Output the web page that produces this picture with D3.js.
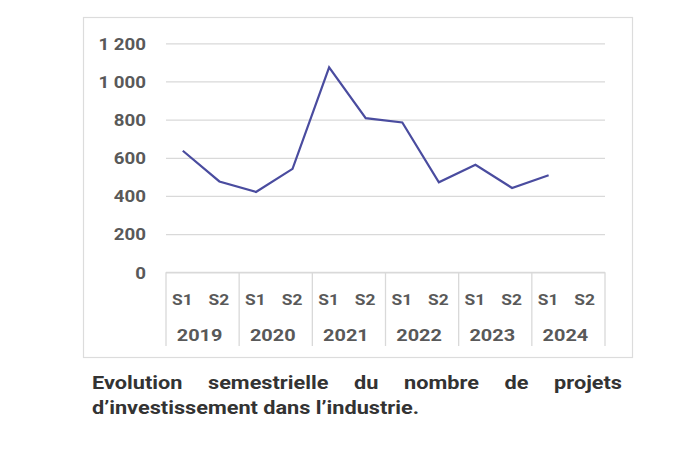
<!DOCTYPE html>
<html><head><meta charset="utf-8">
<script src="https://cdn.jsdelivr.net/npm/d3@7"></script>
<style>body{margin:0;background:#fff;}svg{display:block;font-family:Roboto,"Noto Sans",sans-serif;}</style>
</head><body>
<svg id="c" width="700" height="450"></svg>
<script>
const years = ["2019","2020","2021","2022","2023","2024"];
const halves = ["S1","S2"];
const values = [637, 476, 421, 542, 1074, 808, 785, 472, 563, 442, 509, null];
const yTicks = [0, 200, 400, 600, 800, 1000, 1200];
const captionLine1 = "Evolution semestrielle du nombre de projets";
const captionLine2 = "d\u2019investissement dans l\u2019industrie.";

(function () {
const svg = d3.select("#c");
const pLeft = 166, pRight = 605, pTop = 43.3, pBottom = 272.3, catBottom = 346;
const cats = [];
years.forEach(yr => halves.forEach(h => cats.push(yr + "-" + h)));
const data = cats.map((c, i) => ({cat: c, year: c.split("-")[0], half: c.split("-")[1], v: values[i]}));

const x = d3.scaleBand().domain(cats).range([pLeft, pRight]);
const xYear = d3.scaleBand().domain(years).range([pLeft, pRight]);
const y = d3.scaleLinear().domain([0, 1200]).range([pBottom, pTop]);

function stretch(sel, k) {
  sel.each(function () {
    const w = this.getComputedTextLength();
    d3.select(this).attr("textLength", w * k).attr("lengthAdjust", "spacingAndGlyphs");
  });
}

// frame
svg.append("rect").attr("x", 83.5).attr("y", 17.5).attr("width", 549).attr("height", 340)
  .attr("fill", "#fff").attr("stroke", "#dcdcdc").attr("stroke-width", 1.2);

// gridlines + y labels
const yAxis = d3.axisLeft(y).tickValues(yTicks).tickSize(-(pRight - pLeft)).tickPadding(20)
  .tickFormat(d => d3.format(",")(d).replace(",", " "));
const gy = svg.append("g").attr("transform", `translate(${pLeft},0)`).call(yAxis);
gy.select(".domain").remove();
gy.selectAll(".tick line").attr("stroke", "#d9d9d9").attr("stroke-width", 1.3);
gy.selectAll(".tick text").attr("fill", "#595959").attr("font-size", 17).attr("font-weight", 700)
  .attr("font-family", "Roboto").attr("x", -20).attr("dy", "0.34em");
stretch(gy.selectAll(".tick text"), 1.1);

// category axis boxes
const gc = svg.append("g");
gc.append("line").attr("x1", pLeft).attr("x2", pRight).attr("y1", pBottom).attr("y2", pBottom)
  .attr("stroke", "#d9d9d9").attr("stroke-width", 1.3);
const seps = years.map(yr => xYear(yr)).concat([pRight]);
gc.selectAll("line.sep").data(seps).join("line").attr("class", "sep")
  .attr("x1", d => d).attr("x2", d => d).attr("y1", pBottom).attr("y2", catBottom)
  .attr("stroke", "#d9d9d9").attr("stroke-width", 1.3);
const halfT = gc.selectAll("text.half").data(data).join("text").attr("class", "half")
  .attr("x", d => x(d.cat) + x.bandwidth() / 2 - 2).attr("y", 304.5)
  .attr("text-anchor", "middle").attr("fill", "#595959").attr("font-size", 15.5).attr("font-weight", 700)
  .text(d => d.half);
stretch(halfT, 1.12);
const yearT = gc.selectAll("text.year").data(years).join("text").attr("class", "year")
  .attr("x", d => xYear(d) + xYear.bandwidth() / 2 - 3).attr("y", 340.5)
  .attr("text-anchor", "middle").attr("fill", "#595959").attr("font-size", 17).attr("font-weight", 700)
  .text(d => d);
stretch(yearT, 1.17);

// line
const line = d3.line().defined(d => d.v != null)
  .x(d => x(d.cat) + x.bandwidth() / 2 - 1.5).y(d => y(d.v));
svg.append("path").datum(data).attr("d", line).attr("fill", "none")
  .attr("stroke", "#4a4c9f").attr("stroke-width", 2.2).attr("stroke-linejoin", "miter");

// caption (justified line 1)
const cap = svg.append("g").attr("fill", "#333333").attr("font-weight", 700).attr("font-size", 18);
const x0 = 92, x1 = 622, line2End = 419;
const l2 = cap.append("text").attr("x", x0).attr("y", 413.5).text(captionLine2);
const k = (line2End - x0) / l2.node().getComputedTextLength();
stretch(l2, k);
const words = captionLine1.split(" ");
const wEls = words.map(w => cap.append("text").attr("y", 388.5).text(w));
const widths = wEls.map(e => e.node().getComputedTextLength() * k);
wEls.forEach((e, i) => e.attr("textLength", widths[i]).attr("lengthAdjust", "spacingAndGlyphs"));
const gap = (x1 - x0 - d3.sum(widths)) / (words.length - 1);
let cx = x0;
wEls.forEach((e, i) => { e.attr("x", cx); cx += widths[i] + gap; });
})();
</script>
</body></html>
